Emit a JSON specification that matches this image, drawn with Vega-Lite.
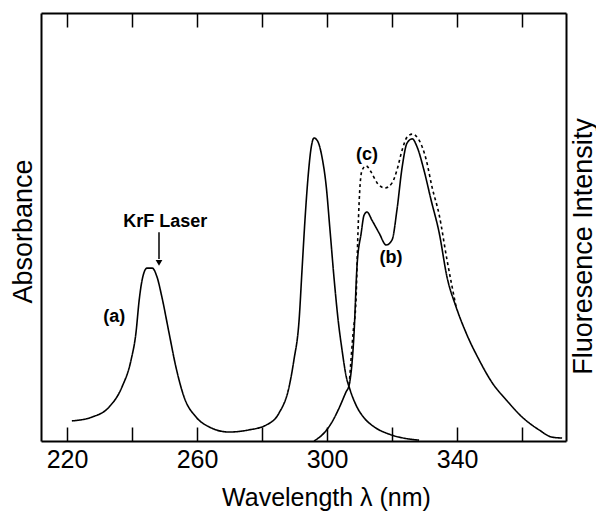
{
  "$schema": "https://vega.github.io/schema/vega-lite/v6.json",
  "width": 525,
  "height": 428,
  "autosize": {"type": "none"},
  "padding": {"left": 41, "top": 13, "right": 30, "bottom": 73},
  "background": "white",
  "config": {
    "font": "Liberation Sans",
    "view": {"stroke": null},
    "axis": {"grid": false, "domainColor": "black", "domainWidth": 2, "tickColor": "black", "labelColor": "black", "titleColor": "black", "titleFontWeight": "normal"}
  },
  "datasets": {
    "curves": [
      {"s": "a", "wl": 221.5, "v": 4.7},
      {"s": "a", "wl": 227.7, "v": 5.6},
      {"s": "a", "wl": 232.9, "v": 7.9},
      {"s": "a", "wl": 236.9, "v": 12.6},
      {"s": "a", "wl": 239.7, "v": 18.9},
      {"s": "a", "wl": 241.2, "v": 25.2},
      {"s": "a", "wl": 242.2, "v": 32.9},
      {"s": "a", "wl": 243.1, "v": 37.6},
      {"s": "a", "wl": 244.6, "v": 40.4},
      {"s": "a", "wl": 246.2, "v": 40.4},
      {"s": "a", "wl": 247.7, "v": 38.3},
      {"s": "a", "wl": 249.2, "v": 33.6},
      {"s": "a", "wl": 251.4, "v": 25.2},
      {"s": "a", "wl": 253.5, "v": 17.3},
      {"s": "a", "wl": 256.0, "v": 10.3},
      {"s": "a", "wl": 259.7, "v": 5.6},
      {"s": "a", "wl": 263.7, "v": 3.3},
      {"s": "a", "wl": 269.8, "v": 2.1},
      {"s": "a", "wl": 276.0, "v": 2.6},
      {"s": "a", "wl": 281.2, "v": 3.7},
      {"s": "a", "wl": 285.2, "v": 6.5},
      {"s": "a", "wl": 288.3, "v": 12.6},
      {"s": "a", "wl": 289.8, "v": 18.9},
      {"s": "a", "wl": 291.4, "v": 28.3},
      {"s": "a", "wl": 292.3, "v": 40.0},
      {"s": "a", "wl": 293.2, "v": 51.6},
      {"s": "a", "wl": 294.2, "v": 62.1},
      {"s": "a", "wl": 295.1, "v": 68.5},
      {"s": "a", "wl": 296.0, "v": 70.8},
      {"s": "a", "wl": 297.2, "v": 69.9},
      {"s": "a", "wl": 298.5, "v": 66.1},
      {"s": "a", "wl": 299.7, "v": 59.8},
      {"s": "a", "wl": 300.9, "v": 49.3},
      {"s": "a", "wl": 302.2, "v": 37.6},
      {"s": "a", "wl": 303.4, "v": 28.3},
      {"s": "a", "wl": 304.6, "v": 21.3},
      {"s": "a", "wl": 305.8, "v": 15.4},
      {"s": "a", "wl": 307.1, "v": 11.9},
      {"s": "a", "wl": 308.9, "v": 8.4},
      {"s": "a", "wl": 311.4, "v": 5.4},
      {"s": "a", "wl": 314.5, "v": 3.3},
      {"s": "a", "wl": 319.1, "v": 1.6},
      {"s": "a", "wl": 322.2, "v": 0.9},
      {"s": "a", "wl": 328.3, "v": 0.2},
      {"s": "b", "wl": 296.0, "v": 0.0},
      {"s": "b", "wl": 299.1, "v": 1.9},
      {"s": "b", "wl": 301.5, "v": 4.4},
      {"s": "b", "wl": 303.7, "v": 7.7},
      {"s": "b", "wl": 305.8, "v": 11.4},
      {"s": "b", "wl": 306.8, "v": 13.1},
      {"s": "b", "wl": 308.3, "v": 25.2},
      {"s": "b", "wl": 309.2, "v": 40.7},
      {"s": "b", "wl": 310.5, "v": 48.6},
      {"s": "b", "wl": 311.4, "v": 52.8},
      {"s": "b", "wl": 312.3, "v": 53.5},
      {"s": "b", "wl": 313.8, "v": 51.6},
      {"s": "b", "wl": 316.0, "v": 48.6},
      {"s": "b", "wl": 318.2, "v": 45.8},
      {"s": "b", "wl": 320.0, "v": 47.0},
      {"s": "b", "wl": 321.5, "v": 54.0},
      {"s": "b", "wl": 323.1, "v": 64.0},
      {"s": "b", "wl": 324.6, "v": 69.6},
      {"s": "b", "wl": 326.2, "v": 70.6},
      {"s": "b", "wl": 327.7, "v": 68.7},
      {"s": "b", "wl": 329.8, "v": 63.3},
      {"s": "b", "wl": 332.0, "v": 56.3},
      {"s": "b", "wl": 334.5, "v": 48.6},
      {"s": "b", "wl": 336.9, "v": 38.3},
      {"s": "b", "wl": 339.7, "v": 31.3},
      {"s": "b", "wl": 342.8, "v": 25.2},
      {"s": "b", "wl": 346.8, "v": 18.9},
      {"s": "b", "wl": 350.8, "v": 13.6},
      {"s": "b", "wl": 355.1, "v": 9.6},
      {"s": "b", "wl": 360.0, "v": 5.6},
      {"s": "b", "wl": 365.2, "v": 2.6},
      {"s": "b", "wl": 369.2, "v": 0.9},
      {"s": "b", "wl": 372.3, "v": 0.7},
      {"s": "c", "wl": 306.8, "v": 13.1},
      {"s": "c", "wl": 308.0, "v": 25.2},
      {"s": "c", "wl": 308.9, "v": 32.9},
      {"s": "c", "wl": 309.5, "v": 48.6},
      {"s": "c", "wl": 310.2, "v": 60.3},
      {"s": "c", "wl": 310.8, "v": 63.3},
      {"s": "c", "wl": 312.0, "v": 64.3},
      {"s": "c", "wl": 313.5, "v": 62.9},
      {"s": "c", "wl": 315.4, "v": 60.3},
      {"s": "c", "wl": 317.8, "v": 59.1},
      {"s": "c", "wl": 320.0, "v": 60.3},
      {"s": "c", "wl": 321.5, "v": 63.3},
      {"s": "c", "wl": 323.1, "v": 68.0},
      {"s": "c", "wl": 324.6, "v": 71.0},
      {"s": "c", "wl": 326.2, "v": 71.7},
      {"s": "c", "wl": 328.3, "v": 70.3},
      {"s": "c", "wl": 330.5, "v": 65.7},
      {"s": "c", "wl": 332.3, "v": 59.3},
      {"s": "c", "wl": 334.5, "v": 52.8},
      {"s": "c", "wl": 336.9, "v": 42.3},
      {"s": "c", "wl": 339.7, "v": 31.3}
    ],
    "labels": [
      {"t": "KrF Laser", "wl": 250.2, "v": 51.2},
      {"t": "(a)", "wl": 234.5, "v": 29.0},
      {"t": "(b)", "wl": 319.7, "v": 42.8},
      {"t": "(c)", "wl": 312.3, "v": 66.8}
    ],
    "arrow": [
      {"wl": 248.3, "v1": 48.8, "v2": 42.5, "tip": 41.6}
    ]
  },
  "layer": [
    {
      "data": {"name": "curves"},
      "mark": {"type": "line", "color": "black", "strokeWidth": 1.6, "interpolate": "monotone"},
      "encoding": {
        "x": {"field": "wl", "type": "quantitative",
          "scale": {"domain": [212, 373.5], "nice": false, "zero": false},
          "axis": {"orient": "bottom", "values": [220, 240, 260, 280, 300, 320, 340, 360],
            "labelExpr": "(datum.value % 40 == 20 && datum.value <= 340) ? datum.label : ''",
            "labelOverlap": false, "labelFlush": false,
            "tickSize": -14, "tickWidth": 1.5, "labelFontSize": 25, "labelPadding": 20,
            "title": "Wavelength λ (nm)", "titleFontSize": 25, "titleX": 285, "titleY": 56, "titleBaseline": "middle"}},
        "y": {"field": "v", "type": "quantitative",
          "scale": {"domain": [0, 100], "nice": false, "zero": false},
          "axis": {"orient": "left", "ticks": false, "labels": false, "title": "Absorbance",
            "titleFontSize": 27, "titleX": -18, "titleY": 218, "titleBaseline": "middle", "titleAngle": -90}},
        "detail": {"field": "s"},
        "strokeDash": {"field": "s", "type": "nominal",
          "scale": {"domain": ["a", "b", "c"], "range": [[1, 0], [1, 0], [3, 3]]}, "legend": null}
      }
    },
    {
      "data": {"name": "labels"},
      "mark": {"type": "text", "fontSize": 18, "fontWeight": "bold", "align": "center", "baseline": "middle", "color": "black"},
      "encoding": {
        "x": {"field": "wl", "type": "quantitative",
          "scale": {"domain": [212, 373.5], "nice": false, "zero": false},
          "axis": {"orient": "top", "values": [220, 240, 260, 280, 300, 320, 340, 360],
            "labels": false, "tickSize": -14, "tickWidth": 1.5, "title": null}},
        "y": {"field": "v", "type": "quantitative",
          "scale": {"domain": [0, 100], "nice": false, "zero": false},
          "axis": {"orient": "right", "ticks": false, "labels": false, "title": "Fluoresence Intensity",
            "titleFontSize": 27, "titleX": 17, "titleY": 233, "titleBaseline": "middle", "titleAngle": -90}},
        "text": {"field": "t"}
      }
    },
    {
      "data": {"name": "arrow"},
      "mark": {"type": "rule", "color": "black", "strokeWidth": 1.5},
      "encoding": {
        "x": {"field": "wl", "type": "quantitative", "scale": {"domain": [212, 373.5], "nice": false, "zero": false}, "axis": null},
        "y": {"field": "v1", "type": "quantitative", "scale": {"domain": [0, 100], "nice": false, "zero": false}, "axis": null},
        "y2": {"field": "v2"}
      }
    },
    {
      "data": {"name": "arrow"},
      "mark": {"type": "point", "shape": "triangle-down", "filled": true, "color": "black", "size": 45, "opacity": 1},
      "encoding": {
        "x": {"field": "wl", "type": "quantitative", "scale": {"domain": [212, 373.5], "nice": false, "zero": false}, "axis": null},
        "y": {"field": "tip", "type": "quantitative", "scale": {"domain": [0, 100], "nice": false, "zero": false}, "axis": null}
      }
    }
  ],
  "resolve": {"scale": {"x": "independent", "y": "independent"}}
}
